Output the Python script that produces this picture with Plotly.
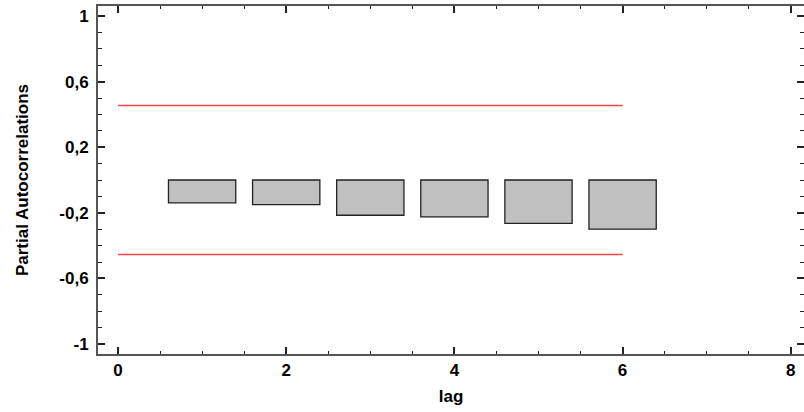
import plotly.graph_objects as go

lags = [1, 2, 3, 4, 5, 6]
pacf = [-0.14, -0.15, -0.215, -0.225, -0.265, -0.30]
limit_x = [0, 6]
upper_limit = [0.454, 0.454]
lower_limit = [-0.454, -0.454]
y_tickvals = [1, 0.6, 0.2, -0.2, -0.6, -1]
y_ticktext = ["1", "0,6", "0,2", "-0,2", "-0,6", "-1"]
x_tickvals = [0, 2, 4, 6, 8]
x_ticktext = ["0", "2", "4", "6", "8"]

fam = "Liberation Sans, Arial, sans-serif"
tickfont = dict(family=fam, size=17, color="black", weight="bold")
titlefont = dict(family=fam, size=17, color="black", weight="bold")

fig = go.Figure()
fig.add_trace(go.Bar(
    x=lags, y=pacf, width=0.8,
    marker=dict(color="#c0c0c0", line=dict(color="#222222", width=1.3)),
    showlegend=False,
))
fig.add_trace(go.Scatter(x=limit_x, y=upper_limit, mode="lines",
                         line=dict(color="#ee4444", width=1.5), showlegend=False))
fig.add_trace(go.Scatter(x=limit_x, y=lower_limit, mode="lines",
                         line=dict(color="#ee4444", width=1.5), showlegend=False))

fig.update_layout(
    width=804, height=412,
    margin=dict(l=98, r=0, t=6, b=58, autoexpand=False),
    plot_bgcolor="white", paper_bgcolor="white",
    font=dict(family=fam, size=17, color="black"),
    xaxis=dict(
        range=[-0.238, 8.157], automargin=False,
        tickvals=x_tickvals, ticktext=x_ticktext,
        ticks="inside", ticklen=7, tickwidth=1.5, tickcolor="#222",
        minor=dict(dtick=0.5, tick0=0, ticks="inside", ticklen=3, tickwidth=1, tickcolor="#222"),
        showline=True, linecolor="#555", linewidth=2, mirror="ticks",
        showgrid=False, zeroline=False,
        tickfont=tickfont,
        title=dict(text="lag", font=titlefont, standoff=11),
    ),
    yaxis=dict(
        range=[-1.061, 1.061], automargin=False,
        tickvals=y_tickvals, ticktext=y_ticktext,
        ticks="inside", ticklen=7, tickwidth=1.5, tickcolor="#222",
        minor=dict(dtick=0.1, tick0=0, ticks="inside", ticklen=4, tickwidth=1, tickcolor="#222"),
        showline=True, linecolor="#555", linewidth=2, mirror="ticks",
        showgrid=False, zeroline=False,
        ticklabelstandoff=4,
        tickfont=tickfont,
        title=dict(text="Partial Autocorrelations", font=titlefont, standoff=26),
    ),
)

fig.write_html("out.html", config={"displayModeBar": False},
               post_script="document.body.style.margin='0';")
